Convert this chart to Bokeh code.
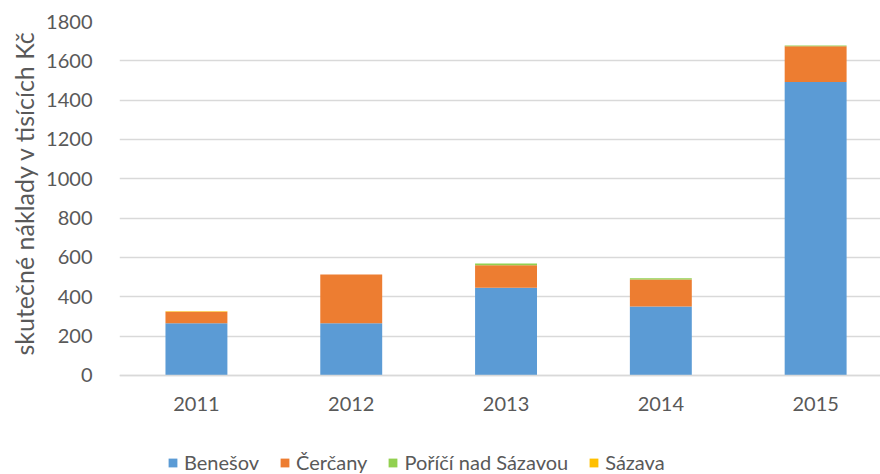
from bokeh.plotting import figure
from bokeh.models import ColumnDataSource, Range1d, FixedTicker, Legend, LegendItem, Title
from bokeh.embed import file_html
from bokeh.resources import INLINE

years = ["2011", "2012", "2013", "2014", "2015"]
series = ["Benešov", "Čerčany", "Poříčí nad Sázavou", "Sázava"]
benesov = [266, 266, 446, 351, 1492]
cercany = [58, 248, 114, 137, 182]
porici = [0, 0, 10, 6, 4]
sazava = [3, 0, 0, 0, 0]
colors = ["#5B9BD5", "#ED7D31", "#92D050", "#FFC000"]
y_ticks = [0, 200, 400, 600, 800, 1000, 1200, 1400, 1600, 1800]
y_title = "skutečné náklady v tisících Kč"

FONT = "Lato"
TXT = "#595959"
GRID = "#D9D9D9"

xs = list(range(len(years)))
keys = ["s0", "s1", "s2", "s3"]
source = ColumnDataSource(dict(x=xs, s0=benesov, s1=cercany, s2=porici, s3=sazava))

# frame runs from the top gridline down to the bottom of the window; the area
# below y=0 holds the x tick labels and the legend
p = figure(frame_width=761, frame_height=453, output_backend="svg", toolbar_location=None,
           x_range=Range1d(-0.497, 4.419), y_range=Range1d(-503.4, 1800),
           min_border_left=119, min_border_right=0, min_border_top=21, min_border_bottom=0)
p.outline_line_color = None

rs = p.vbar_stack(keys, x="x", width=0.40, source=source, color=colors, line_color=None)

p.xaxis.ticker = FixedTicker(ticks=xs)
p.xaxis.major_label_overrides = {i: y for i, y in enumerate(years)}
p.xaxis.fixed_location = 0
p.yaxis.ticker = FixedTicker(ticks=y_ticks)
p.yaxis.bounds = (0, 1800)

for ax in (p.xaxis[0], p.yaxis[0]):
    ax.major_tick_line_color = None
    ax.minor_tick_line_color = None
    ax.major_label_text_font = FONT
    ax.major_label_text_font_size = "20px"
    ax.major_label_text_color = TXT
p.yaxis.axis_line_color = None
p.xaxis.axis_line_color = GRID
p.xaxis.axis_line_width = 1.5
p.xaxis.major_label_standoff = 16
p.yaxis.major_label_standoff = 21

p.xgrid.grid_line_color = None
p.ygrid.grid_line_color = GRID
p.ygrid.grid_line_width = 1.5
p.ygrid.ticker = FixedTicker(ticks=y_ticks)

# y-axis title, placed along the 0-1800 part of the axis
p.add_layout(Title(text=y_title, align="left", offset=119, standoff=10,
                   text_font=FONT, text_font_size="25px", text_font_style="normal",
                   text_color=TXT), "left")

legend = Legend(items=[LegendItem(label=s, renderers=[r]) for s, r in zip(series, rs)],
                orientation="horizontal", location=(48, 0),
                glyph_width=11, glyph_height=11, label_standoff=6, spacing=20,
                label_text_font=FONT, label_text_font_size="20px", label_text_color=TXT,
                border_line_color=None, background_fill_alpha=0, margin=0, padding=0)
p.add_layout(legend, "center")

open("out.html", "w").write(file_html(p, INLINE))
